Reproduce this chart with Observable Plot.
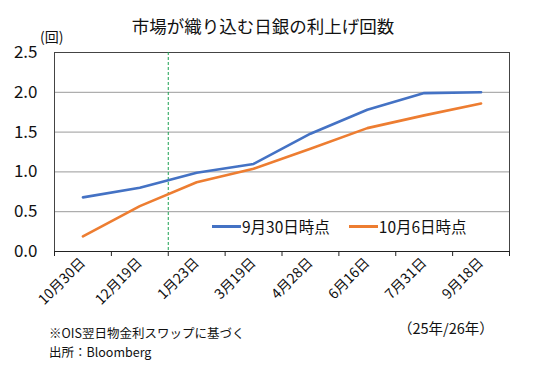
<!DOCTYPE html>
<html><head><meta charset="utf-8">
<script src="https://cdn.jsdelivr.net/npm/d3@7"></script>
<script src="https://cdn.jsdelivr.net/npm/@observablehq/plot@0.6"></script>
<style>
body{margin:0;background:#fff;font-family:"Noto Sans CJK JP","Noto Sans",sans-serif;}
#wrap{position:relative;width:542px;height:369px;overflow:hidden;}
.t{position:absolute;white-space:nowrap;color:#111;line-height:1;}
</style></head>
<body><div id="wrap"></div>
<script>
const dates = ["10月30日","12月19日","1月23日","3月19日","4月28日","6月16日","7月31日","9月18日"];
const sep30 = [0.68,0.80,0.99,1.10,1.48,1.78,1.99,2.00];
const oct6 = [0.19,0.57,0.87,1.04,1.29,1.55,1.71,1.86];
const seriesNames = ["9月30日時点","10月6日時点"];
const colors = ["#4472C4","#ED7D31"];
const yTicks = [0,0.5,1.0,1.5,2.0,2.5];
const dividerAt = 1.5;

const rows = [];
dates.forEach((d,i)=>{rows.push({i,v:sep30[i],s:seriesNames[0]});rows.push({i,v:oct6[i],s:seriesNames[1]});});

const font = '"Noto Sans CJK JP","Noto Sans",sans-serif';
const chart = Plot.plot({
  width:542,height:369,
  marginLeft:54,marginRight:33,marginTop:52,marginBottom:118,
  style:{fontFamily:font,fontSize:"12px",color:"#111",background:"transparent"},
  x:{domain:[-0.5,dates.length-0.5],axis:null},
  y:{domain:[0,2.5],axis:null},
  color:{domain:seriesNames,range:colors},
  marks:[
    Plot.ruleY(yTicks.slice(1,-1),{stroke:"#9a9a9a",strokeWidth:1}),
    Plot.frame({stroke:"#444",strokeWidth:1}),
    Plot.ruleX([dividerAt],{stroke:"#1aa050",strokeWidth:1,strokeDasharray:"3,2"}),
    Plot.axisY({ticks:yTicks,tickSize:0,tickPadding:17,tickFormat:d=>d.toFixed(1),fontSize:17,anchor:"left",label:null}),
    Plot.axisX({ticks:d3.range(-0.5,dates.length,1),tickSize:5,tickFormat:()=>"",stroke:"#222",label:null}),
    Plot.axisX({ticks:d3.range(0,dates.length),tickSize:0,tickPadding:9,tickRotate:-45,tickFormat:i=>dates[i],fontSize:14,label:null}),
    Plot.ruleY([0],{stroke:"#222"}),
    Plot.line(rows,{x:"i",y:"v",z:"s",stroke:"s",strokeWidth:2.6})
  ]
});
const wrap = document.getElementById("wrap");
chart.style.position="absolute";chart.style.left="0";chart.style.top="0";
wrap.appendChild(chart);

function addText(txt,left,top,size,extra){
  const d=document.createElement("div");d.className="t";d.textContent=txt;
  d.style.left=left+"px";d.style.top=top+"px";d.style.fontSize=size+"px";
  if(extra)Object.assign(d.style,extra);wrap.appendChild(d);return d;
}
addText("市場が織り込む日銀の利上げ回数",0,17,17.5,{width:"526px",textAlign:"center"});
addText("(回)",40,29,14);
addText("（25年/26年）",398,321,14.5);
addText("※OIS翌日物金利スワップに基づく",49,327,12.5);
addText("出所：Bloomberg",49,346,12.5);

// legend
const leg=document.createElement("div");leg.className="t";
leg.style.left="212px";leg.style.top="219px";leg.style.fontSize="15.5px";leg.style.display="flex";leg.style.alignItems="center";
seriesNames.forEach((n,k)=>{
  const sw=document.createElement("span");
  sw.style.display="inline-block";sw.style.width="29px";sw.style.height="3px";sw.style.background=colors[k];sw.style.marginRight="1px";
  const lb=document.createElement("span");lb.textContent=n;lb.style.marginRight=k===0?"19px":"0";
  leg.appendChild(sw);leg.appendChild(lb);
});
wrap.appendChild(leg);
</script></body></html>
